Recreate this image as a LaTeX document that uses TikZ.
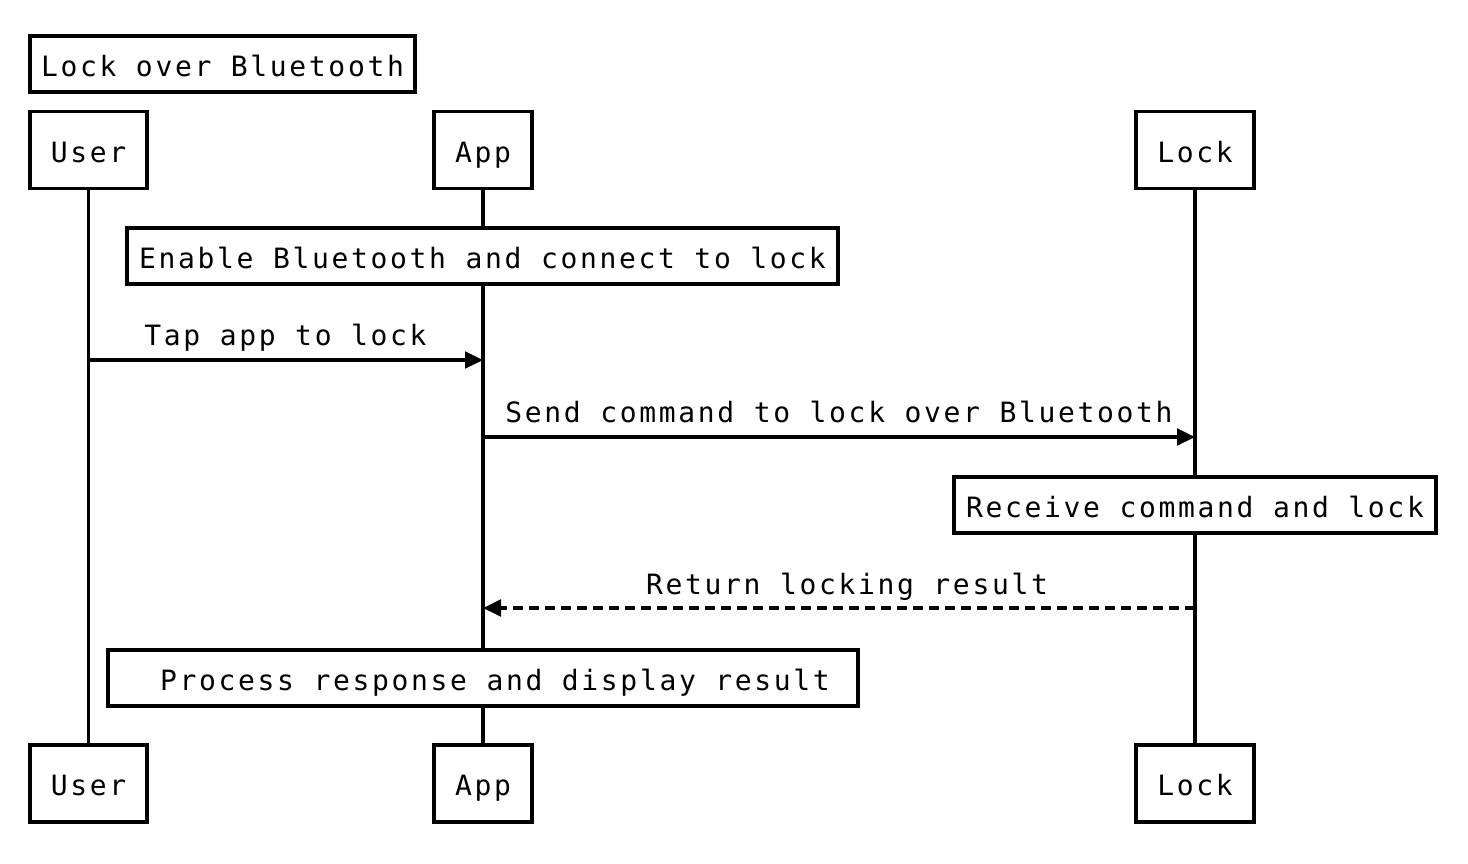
\documentclass[tikz,border=0pt]{standalone}
\usepackage{fontspec}
\setmonofont{DejaVu Sans Mono}[LetterSpace=9.5]
\usetikzlibrary{arrows.meta}
\begin{document}
\begin{tikzpicture}[x=0.75pt,y=-0.75pt,
  every node/.style={font=\ttfamily\fontsize{21}{25}\selectfont, inner sep=0pt},
  box/.style={draw, line width=2.6pt, fill=white, minimum height=57.75pt, text height=19pt, text depth=1pt},
  life/.style={line width=2.6pt},
  msg/.style={line width=2.6pt, -{Triangle[length=13.5pt,width=12.5pt]}},
  reply/.style={msg, dash pattern=on 7.5pt off 4.5pt},
  lbl/.style={anchor=base}]
\useasboundingbox (0,0) rectangle (1468,864);
% title
\node[box, minimum width=289pt, minimum height=42pt] (title) at (222.5,64) {Lock over Bluetooth};
% participants
\node[box, minimum width=88pt] (user1) at (88.5,150) {User};
\node[box, minimum width=73.5pt] (app1) at (483,150) {App};
\node[box, minimum width=88.5pt] (lock1) at (1195,150) {Lock};
\node[box, minimum width=88pt] (user2) at (88.5,783.5) {User};
\node[box, minimum width=73.5pt] (app2) at (483,783.5) {App};
\node[box, minimum width=88.5pt] (lock2) at (1195,783.5) {Lock};
% lifelines
\draw[life] (user1) -- (user2);
\draw[life] (app1) -- (app2);
\draw[life] (lock1) -- (lock2);
% notes
\node[box, minimum width=533pt, minimum height=42pt] (n1) at (482.5,256) {Enable Bluetooth and connect to lock};
\node[box, minimum width=361.5pt, minimum height=42pt] (n2) at (1195,505) {Receive command and lock};
\node[box, minimum width=562.5pt, minimum height=42pt] (n3) at (483,678) {\hspace*{18pt}Process response and display result};
% messages
\coordinate (m1a) at (88,360); \coordinate (m1b) at (483,360);
\coordinate (m2a) at (483,437); \coordinate (m2b) at (1195,437);
\coordinate (m3a) at (1195,608); \coordinate (m3b) at (483,608);
\draw[msg] (m1a) -- (m1b);
\node[lbl] (l1) at (285.5,345) {Tap app to lock};
\draw[msg] (m2a) -- (m2b);
\node[lbl] (l2) at (839,422) {Send command to lock over Bluetooth};
\draw[reply] (m3a) -- (m3b);
\node[lbl] (l3) at (847,594) {Return locking result};
\end{tikzpicture}
\end{document}
